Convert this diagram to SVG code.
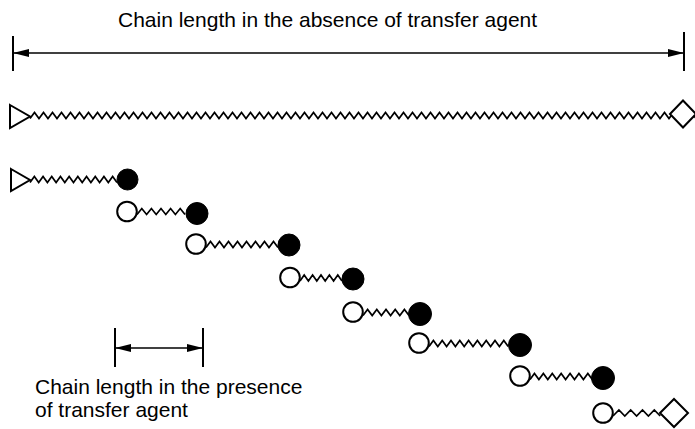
<svg xmlns="http://www.w3.org/2000/svg" width="695" height="429" viewBox="0 0 695 429">
<style>
.txt{font-family:"Liberation Sans",Arial,sans-serif;font-size:21px;fill:#000}
.zz{fill:none;stroke:#000;stroke-width:1.7;stroke-linejoin:miter}
.tick{stroke:#000;stroke-width:2}
.dim{stroke:#000;stroke-width:1.5;fill:none}
.open{fill:#fff;stroke:#000;stroke-width:2}
.full{fill:#000;stroke:#000;stroke-width:1}
.end{fill:#fff;stroke:#000;stroke-width:2;stroke-linejoin:miter}
</style>
<defs>
<marker id="ah" viewBox="0 0 16 8" refX="16" refY="4" markerWidth="16" markerHeight="8" markerUnits="userSpaceOnUse" orient="auto-start-reverse">
<path d="M0,0 L16,4 L0,8 Z" fill="#000"/>
</marker>
</defs>
<text class="txt" x="118" y="27">Chain length in the absence of transfer agent</text>
<text class="txt" x="35" y="394">Chain length in the presence</text>
<text class="txt" x="35" y="417">of transfer agent</text>
<g id="connectors">
<line class="tick" x1="13" y1="36" x2="13" y2="71"/>
<line class="tick" x1="684" y1="32" x2="684" y2="71"/>
<line class="dim" x1="13" y1="53" x2="684" y2="53" marker-start="url(#ah)" marker-end="url(#ah)"/>
<line class="tick" x1="115" y1="328" x2="115" y2="367"/>
<line class="tick" x1="203" y1="328" x2="203" y2="367"/>
<line class="dim" x1="115" y1="348" x2="203" y2="348" marker-start="url(#ah)" marker-end="url(#ah)"/>
</g>
<g id="chain-full">
<path class="zz" d="M30,118.5 l4.5,-6 4.5,6 4.5,-6 4.5,6 4.5,-6 4.5,6 4.5,-6 4.5,6 4.5,-6 4.5,6 4.5,-6 4.5,6 4.5,-6 4.5,6 4.5,-6 4.5,6 4.5,-6 4.5,6 4.5,-6 4.5,6 4.5,-6 4.5,6 4.5,-6 4.5,6 4.5,-6 4.5,6 4.5,-6 4.5,6 4.5,-6 4.5,6 4.5,-6 4.5,6 4.5,-6 4.5,6 4.5,-6 4.5,6 4.5,-6 4.5,6 4.5,-6 4.5,6 4.5,-6 4.5,6 4.5,-6 4.5,6 4.5,-6 4.5,6 4.5,-6 4.5,6 4.5,-6 4.5,6 4.5,-6 4.5,6 4.5,-6 4.5,6 4.5,-6 4.5,6 4.5,-6 4.5,6 4.5,-6 4.5,6 4.5,-6 4.5,6 4.5,-6 4.5,6 4.5,-6 4.5,6 4.5,-6 4.5,6 4.5,-6 4.5,6 4.5,-6 4.5,6 4.5,-6 4.5,6 4.5,-6 4.5,6 4.5,-6 4.5,6 4.5,-6 4.5,6 4.5,-6 4.5,6 4.5,-6 4.5,6 4.5,-6 4.5,6 4.5,-6 4.5,6 4.5,-6 4.5,6 4.5,-6 4.5,6 4.5,-6 4.5,6 4.5,-6 4.5,6 4.5,-6 4.5,6 4.5,-6 4.5,6 4.5,-6 4.5,6 4.5,-6 4.5,6 4.5,-6 4.5,6 4.5,-6 4.5,6 4.5,-6 4.5,6 4.5,-6 4.5,6 4.5,-6 4.5,6 4.5,-6 4.5,6 4.5,-6 4.5,6 4.5,-6 4.5,6 4.5,-6 4.5,6 4.5,-6 4.5,6 4.5,-6 4.5,6 4.5,-6 4.5,6 4.5,-6 4.5,6 4.5,-6 4.5,6 4.5,-6 4.5,6 4.5,-6 4.5,6 4.5,-6 4.5,6 4.5,-6 4.5,6 4.5,-6 4.5,6 4.5,-6 4.5,6 4.5,-6 4.5,6 4.5,-6 4.5,6 4.5,-6 4.5,6 4.5,-6 4.5,6 4.5,-6 4.5,6 L670,115"/>
<polygon class="end" points="10,105 30,116.5 10,128"/>
<polygon class="end" points="670,114 683,100.5 696,114 683,127.5"/>
</g>
<g id="seg1">
<path class="zz" d="M30,182.5 l4.35,-6 4.35,6 4.35,-6 4.35,6 4.35,-6 4.35,6 4.35,-6 4.35,6 4.35,-6 4.35,6 4.35,-6 4.35,6 4.35,-6 4.35,6 4.35,-6 4.35,6 4.35,-6 4.35,6 4.35,-6 4.35,6"/>
<polygon class="end" points="11,169 30,180 11,191"/>
<circle class="full" cx="127.5" cy="179.5" r="10.5"/>
</g>
<g id="seg2">
<path class="zz" d="M137,214.5 l4.8,-6 4.8,6 4.8,-6 4.8,6 4.8,-6 4.8,6 4.8,-6 4.8,6 4.8,-6 4.8,6"/>
<circle class="open" cx="127" cy="211.5" r="9.8"/>
<circle class="full" cx="197" cy="213.5" r="11"/>
</g>
<g id="seg3">
<path class="zz" d="M206,247.5 l4.5,-6 4.5,6 4.5,-6 4.5,6 4.5,-6 4.5,6 4.5,-6 4.5,6 4.5,-6 4.5,6 4.5,-6 4.5,6 4.5,-6 4.5,6 4.5,-6 4.5,6"/>
<circle class="open" cx="196" cy="244" r="9.8"/>
<circle class="full" cx="289" cy="245" r="11"/>
</g>
<g id="seg4">
<path class="zz" d="M300,281 l4.2,-6 4.2,6 4.2,-6 4.2,6 4.2,-6 4.2,6 4.2,-6 4.2,6 4.2,-6 4.2,6"/>
<circle class="open" cx="290" cy="277.5" r="9.8"/>
<circle class="full" cx="353" cy="279" r="11"/>
</g>
<g id="seg5">
<path class="zz" d="M363,315.5 l4.6,-6 4.6,6 4.6,-6 4.6,6 4.6,-6 4.6,6 4.6,-6 4.6,6 4.6,-6 4.6,6"/>
<circle class="open" cx="353" cy="312" r="9.8"/>
<circle class="full" cx="420" cy="314" r="11.5"/>
</g>
<g id="seg6">
<path class="zz" d="M429,346.5 l4.4,-6 4.4,6 4.4,-6 4.4,6 4.4,-6 4.4,6 4.4,-6 4.4,6 4.4,-6 4.4,6 4.4,-6 4.4,6 4.4,-6 4.4,6 4.4,-6 4.4,6 4.4,-6 4.4,6"/>
<circle class="open" cx="419" cy="343" r="9.8"/>
<circle class="full" cx="520" cy="345" r="11.5"/>
</g>
<g id="seg7">
<path class="zz" d="M530,379.5 l4.45,-6 4.45,6 4.45,-6 4.45,6 4.45,-6 4.45,6 4.45,-6 4.45,6 4.45,-6 4.45,6 4.45,-6 4.45,6 4.45,-6 4.45,6"/>
<circle class="open" cx="520" cy="376" r="9.8"/>
<circle class="full" cx="603" cy="378" r="11.5"/>
</g>
<g id="seg8">
<path class="zz" d="M613,416 l5.9,-6 5.9,6 5.9,-6 5.9,6 5.9,-6 5.9,6 5.9,-6 5.9,6"/>
<circle class="open" cx="603" cy="413" r="9.8"/>
<polygon class="end" points="660,413 674,399 688,413 674,427"/>
</g>
</svg>
